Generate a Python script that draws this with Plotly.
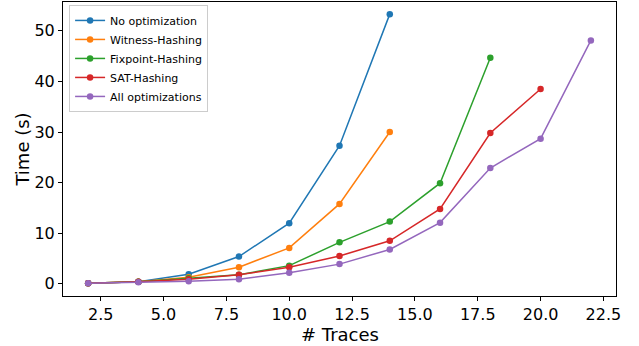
import plotly.graph_objects as go

traces = [2, 4, 6, 8, 10, 12, 14, 16, 18, 20, 22]
no_opt = [0.1, 0.4, 1.9, 5.4, 12.0, 27.3, 53.3]
witness = [0.1, 0.4, 1.3, 3.3, 7.1, 15.8, 30.0]
fixpoint = [0.1, 0.4, 1.1, 1.8, 3.6, 8.2, 12.3, 19.9, 44.7]
sat = [0.1, 0.4, 0.9, 1.8, 3.3, 5.5, 8.5, 14.8, 29.8, 38.5]
all_opt = [0.1, 0.3, 0.5, 0.9, 2.2, 3.9, 6.8, 12.1, 22.9, 28.7, 48.1]

series = [
    ("No optimization", no_opt, "#1f77b4"),
    ("Witness-Hashing", witness, "#ff7f0e"),
    ("Fixpoint-Hashing", fixpoint, "#2ca02c"),
    ("SAT-Hashing", sat, "#d62728"),
    ("All optimizations", all_opt, "#9467bd"),
]

x_ticks = [2.5, 5.0, 7.5, 10.0, 12.5, 15.0, 17.5, 20.0, 22.5]
x_tick_labels = ["2.5", "5.0", "7.5", "10.0", "12.5", "15.0", "17.5", "20.0", "22.5"]
y_ticks = [0, 10, 20, 30, 40, 50]

fig = go.Figure()
for name, vals, color in series:
    fig.add_trace(go.Scatter(
        x=traces[:len(vals)], y=vals, name=name, mode="lines+markers",
        line=dict(color=color, width=1.5),
        marker=dict(color=color, size=6.5),
    ))

font = "DejaVu Sans"
fig.update_layout(
    width=639, height=346,
    margin=dict(l=63, r=23, t=2, b=50, autoexpand=False),
    paper_bgcolor="white", plot_bgcolor="white",
    font=dict(family=font, size=16, color="black"),
    showlegend=True,
    legend=dict(
        x=0.011, y=0.99, xanchor="left", yanchor="top",
        bgcolor="rgba(255,255,255,0.8)", bordercolor="#cccccc", borderwidth=1,
        font=dict(family=font, size=11, color="black"),
        tracegroupgap=0, itemwidth=30,
    ),
    xaxis=dict(
        range=[1.0, 23.0], tickvals=x_ticks, ticktext=x_tick_labels,
        showline=True, linecolor="black", linewidth=1, mirror=True,
        ticks="outside", ticklen=4, tickcolor="black",
        showgrid=False, zeroline=False, automargin=False,
        tickfont=dict(family=font, size=16),
    ),
    yaxis=dict(
        range=[-2.4, 55.7], tickvals=y_ticks,
        showline=True, linecolor="black", linewidth=1, mirror=True,
        ticks="outside", ticklen=4, tickcolor="black",
        showgrid=False, zeroline=False, automargin=False,
        title=dict(text="Time (s)", font=dict(family=font, size=18), standoff=0),
        tickfont=dict(family=font, size=16),
    ),
    annotations=[dict(
        text="# Traces", xref="paper", yref="paper", x=0.5, y=-0.132,
        xanchor="center", yanchor="middle", showarrow=False,
        font=dict(family=font, size=18, color="black"),
    )],
)

fig.write_html("out.html", config={"displayModeBar": False},
               post_script="document.body.style.margin='0';")
